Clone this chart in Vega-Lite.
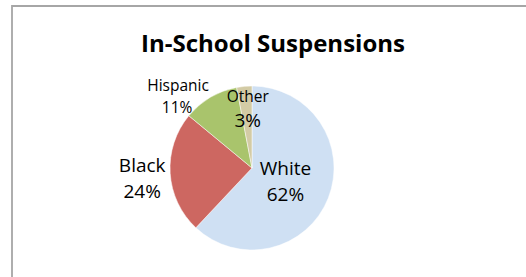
{
  "$schema": "https://vega.github.io/schema/vega-lite/v6.json",
  "autosize": "none",
  "padding": {"left": 12, "top": 6, "right": -8, "bottom": -20},
  "width": 522,
  "height": 291,
  "background": "white",
  "view": {"stroke": "#a6a6a6", "strokeWidth": 1.8, "fill": "white"},
  "config": {
    "font": "Open Sans"
  },
  "title": {
    "text": "In-School Suspensions",
    "anchor": "middle",
    "frame": "group",
    "baseline": "alphabetic",
    "offset": -70,
    "fontSize": 24,
    "fontWeight": "bold",
    "font": "Open Sans",
    "color": "#000000"
  },
  "data": {
    "values": [
      {"group": "White", "value": 62, "pct": "62%", "order": 1},
      {"group": "Black", "value": 24, "pct": "24%", "order": 2},
      {"group": "Hispanic", "value": 11, "pct": "11%", "order": 3},
      {"group": "Other", "value": 3, "pct": "3%", "order": 4}
    ]
  },
  "encoding": {
    "theta": {"field": "value", "type": "quantitative", "stack": true},
    "order": {"field": "order", "type": "quantitative", "sort": "ascending"}
  },
  "layer": [
    {
      "mark": {"type": "arc", "outerRadius": 82, "xOffset": -21, "yOffset": 16.5, "stroke": "white", "strokeWidth": 0.5},
      "encoding": {
        "color": {
          "field": "group", "type": "nominal", "legend": null,
          "scale": {"domain": ["White", "Black", "Hispanic", "Other"], "range": ["#cfe0f3", "#cd6761", "#a9c46c", "#d3cba5"]}
        }
      }
    },
    {
      "mark": {"type": "text", "radius": 36, "xOffset": -21, "yOffset": 16.5, "dy": -12, "fontSize": 19, "baseline": "middle", "color": "#000"},
      "encoding": {"text": {"condition": {"test": "datum.group === 'White'", "field": "group"}, "value": ""}}
    },
    {
      "mark": {"type": "text", "radius": 36, "xOffset": -21, "yOffset": 16.5, "dy": 14, "fontSize": 19, "baseline": "middle", "color": "#000"},
      "encoding": {"text": {"condition": {"test": "datum.group === 'White'", "field": "pct"}, "value": ""}}
    },
    {
      "mark": {"type": "text", "radius": 110, "xOffset": -21, "yOffset": 16.5, "dy": -9, "fontSize": 19, "baseline": "middle", "color": "#000"},
      "encoding": {"text": {"condition": {"test": "datum.group === 'Black'", "field": "group"}, "value": ""}}
    },
    {
      "mark": {"type": "text", "radius": 110, "xOffset": -21, "yOffset": 16.5, "dy": 17, "fontSize": 19, "baseline": "middle", "color": "#000"},
      "encoding": {"text": {"condition": {"test": "datum.group === 'Black'", "field": "pct"}, "value": ""}}
    },
    {
      "mark": {"type": "text", "radius": 100, "xOffset": -21, "yOffset": 16.5, "dx": -23, "dy": 4, "fontSize": 15.5, "baseline": "middle", "color": "#000"},
      "encoding": {"text": {"condition": {"test": "datum.group === 'Hispanic'", "field": "group"}, "value": ""}}
    },
    {
      "mark": {"type": "text", "radius": 100, "xOffset": -21, "yOffset": 16.5, "dx": -24, "dy": 26, "fontSize": 15.5, "baseline": "middle", "color": "#000"},
      "encoding": {"text": {"condition": {"test": "datum.group === 'Hispanic'", "field": "pct"}, "value": ""}}
    },
    {
      "mark": {"type": "text", "radius": 56, "xOffset": -21, "yOffset": 16.5, "dx": 1, "dy": -15, "fontSize": 15.5, "baseline": "middle", "color": "#000"},
      "encoding": {"text": {"condition": {"test": "datum.group === 'Other'", "field": "group"}, "value": ""}}
    },
    {
      "mark": {"type": "text", "radius": 56, "xOffset": -21, "yOffset": 16.5, "dx": 1, "dy": 9, "fontSize": 19, "baseline": "middle", "color": "#000"},
      "encoding": {"text": {"condition": {"test": "datum.group === 'Other'", "field": "pct"}, "value": ""}}
    }
  ]
}
